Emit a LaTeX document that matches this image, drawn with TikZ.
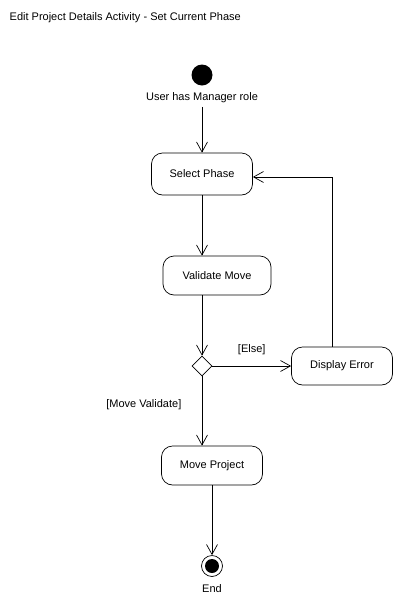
\documentclass[tikz,border=0pt]{standalone}
\usepackage{fontspec}
\setmainfont{Liberation Sans}
\usetikzlibrary{arrows.meta,positioning,shapes.geometric}
\begin{document}
\begin{tikzpicture}[x=1pt,y=-1pt,>={Straight Barb[length=10pt,width=11pt]},node distance=100pt,on grid,font=\fontsize{11}{13}\selectfont,line width=0.7pt]
          \useasboundingbox (0,0) rectangle (404,606);
          \tikzset{act/.style={draw,rounded corners=11pt,minimum width=101pt,minimum height=40pt}}
          \tikzset{mystyle/.style={->}}
          \node[anchor=west]          (T) at (6,18)    {Edit Project Details Activity - Set Current Phase};
          \node[circle,fill=black,minimum size=21pt,inner sep=0pt]          (S) at (202,75)    {};
          \node          (L) [below=23pt of S]    {User has Manager role};
          \node[act,minimum height=42pt]          (A) [below=99pt of S]    {Select Phase};
          \node[act,minimum width=108pt,minimum height=39pt]          (B) [below right=101.5pt and 15pt of A]    {Validate Move};
          \node[diamond,draw,minimum size=20pt,inner sep=0pt]          (D) [below left=90.5pt and 15pt of B]    {};
          \node[act,minimum height=38pt]          (C) [right=140pt of D]    {Display Error};
          \node[act,minimum height=39pt]          (E) [below right=99.5pt and 10pt of D]    {Move Project};
          \node[circle,draw,minimum size=21pt,inner sep=0pt]          (F) [below=100.5pt of E]    {};
          \node[circle,fill=black,minimum size=14pt,inner sep=0pt]          (G) at (F)    {};
          \node          (N) [below=23pt of F]    {End};
          \path (L)     edge [mystyle]    (A)
          (A)     edge [mystyle]    (A |- B.north)
          (D |- B.south)     edge [mystyle]    (D)
          (D)     edge [mystyle]    node [above=8pt]   {[Else]} (C)
          (D)     edge [mystyle]    node [left=17pt,pos=0.41]   {[Move Validate]} (D |- E.north)
          (E)     edge [mystyle]    (F);
          \draw[mystyle] ([xshift=-10pt]C.north) |- ([yshift=-3pt]A.east);
        \end{tikzpicture}
\end{document}
